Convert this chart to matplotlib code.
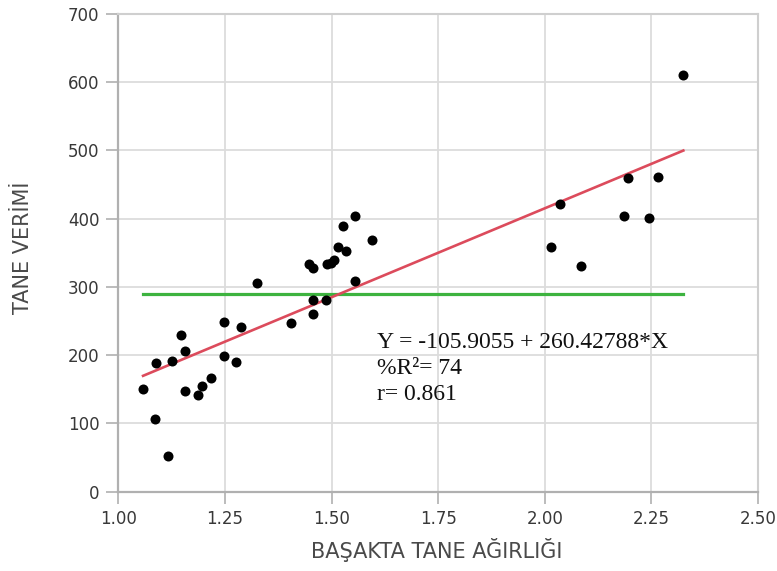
import matplotlib
matplotlib.use('Agg')
import matplotlib.pyplot as plt
import numpy as np

# ── Data ─────────────────────────────────────────────────────────────────────
basakta_tane_agirligi = [
    1.058, 1.088, 1.087, 1.117, 1.127, 1.146, 1.157, 1.157, 1.186, 1.197,
    1.217, 1.247, 1.247, 1.275, 1.287, 1.326, 1.406, 1.446, 1.457, 1.457,
    1.457, 1.487, 1.489, 1.499, 1.506, 1.516, 1.527, 1.535, 1.555, 1.555,
    1.596, 2.015, 2.035, 2.085, 2.185, 2.196, 2.245, 2.266, 2.325,
]
tane_verimi = [
    150, 188, 106, 52, 192, 230, 206, 147, 142, 155,
    166, 249, 198, 190, 241, 305, 247, 333, 327, 280,
    260, 280, 333, 335, 339, 359, 389, 352, 403, 309,
    369, 359, 421, 331, 404, 459, 401, 461, 610,
]
intercept = -105.9055
slope = 260.42788
r2_pct = 74
r_val = 0.861

x_ticks = [1.00, 1.25, 1.50, 1.75, 2.00, 2.25, 2.50]
y_ticks = [0, 100, 200, 300, 400, 500, 600, 700]

x = np.array(basakta_tane_agirligi)
y = np.array(tane_verimi)

fig = plt.figure(figsize=(7.77, 5.71), dpi=100)
ax = fig.add_axes([0.1523, 0.139, 0.8232, 0.837])

ax.grid(True, color='#dcdcdc', linewidth=1.3, zorder=0)
ax.set_axisbelow(True)

# mean line and regression line
ax.plot([x.min(), x.max()], [y.mean(), y.mean()], color='#3db33f', linewidth=2.3, zorder=2)
xl = np.array([x.min(), x.max()])
ax.plot(xl, intercept + slope * xl, color='#dc4b5c', linewidth=1.9, zorder=3)

ax.scatter(x, y, s=52, color='black', linewidths=0, zorder=4)

ax.text(1.607, 180, f'Y = {intercept} + {slope}*X\n%R²= {r2_pct}\nr= {r_val}',
        family='Liberation Serif', fontsize=17, color='#111111',
        va='center', ha='left', linespacing=1.3, zorder=5)

ax.set_xlim(1.0, 2.5)
ax.set_ylim(0, 700)
ax.set_xticks(x_ticks)
ax.set_xticklabels([f'{v:.2f}' for v in x_ticks])
ax.set_yticks(y_ticks)

for s in ['top', 'right']:
    ax.spines[s].set_color('#cfcfcf')
    ax.spines[s].set_linewidth(1.5)
for s in ['left', 'bottom']:
    ax.spines[s].set_color('#b0b0b0')
    ax.spines[s].set_linewidth(1.6)
ax.tick_params(direction='out', length=8.5, width=1.2, color='#b0b0b0',
               labelsize=12, labelcolor='#383838', pad=5)
for lab in ax.get_xticklabels() + ax.get_yticklabels():
    lab.set_family('DejaVu Sans')

ax.set_xlabel('BAŞAKTA TANE AĞIRLIĞI', fontsize=15, color='#4a4a4a',
              family='DejaVu Sans')
ax.set_ylabel('TANE VERİMİ', fontsize=15, color='#4a4a4a',
              family='DejaVu Sans')
ax.xaxis.set_label_coords(0.497, -0.098)
ax.yaxis.set_label_coords(-0.134, 0.51)

fig.savefig('out.png', dpi=100)
